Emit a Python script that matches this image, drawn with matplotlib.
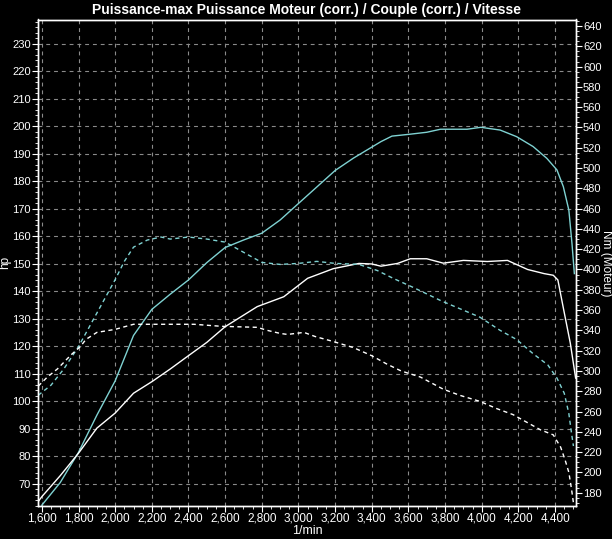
import matplotlib
matplotlib.use("Agg")
import matplotlib.pyplot as plt
from matplotlib.ticker import FuncFormatter, MultipleLocator

plt.rcParams['font.family'] = ['Liberation Sans Narrow', 'Liberation Sans', 'DejaVu Sans']

# puissance (hp), courbe cyan
rpm_p1 = [1600, 1700, 1800, 1900, 2000, 2100, 2200, 2300, 2400, 2500, 2600, 2700, 2800,
          2900, 3000, 3100, 3200, 3300, 3375, 3450, 3510, 3610, 3700, 3775, 3920, 3995,
          4100, 4190, 4280, 4355, 4410, 4445, 4475, 4492, 4505]
hp_1 = [62.3, 70.5, 81.5, 95, 107.5, 124, 133.5, 139, 144.2, 150.5, 156, 158.7, 161.2,
        166, 172, 178, 184, 188.5, 191.5, 194.5, 196.5, 197.2, 197.9, 199, 199, 199.7,
        198.7, 196.3, 192.7, 188.4, 184.2, 178.1, 169.6, 157.5, 146.5]

# puissance (hp), courbe blanche
rpm_p2 = [1580, 1600, 1700, 1800, 1900, 2000, 2100, 2200, 2300, 2380, 2500, 2600, 2775,
          2920, 3050, 3190, 3330, 3400, 3450, 3540, 3610, 3700, 3790, 3900, 4030, 4140,
          4190, 4250, 4340, 4390, 4415, 4447, 4483, 4512]
hp_2 = [63.6, 65.4, 73, 81.2, 90.3, 95.8, 103, 107.2, 111.8, 115.7, 121.5, 127.2, 134.5,
        138.1, 144.8, 148.3, 150.2, 150, 149.2, 150.2, 151.9, 151.9, 150.3, 151.3, 150.9, 151.3,
        149.8, 148, 146.5, 145.9, 144.2, 133.3, 121.2, 108.5]

# couple (Nm), courbe cyan pointillee
rpm_c1 = [1580, 1650, 1720, 1800, 1900, 2000, 2050, 2100, 2175, 2250, 2300, 2400, 2500,
          2600, 2670, 2800, 2900, 3000, 3100, 3200, 3330, 3430, 3520, 3630, 3780, 3990,
          4100, 4190, 4280, 4360, 4410, 4450, 4475, 4490, 4500]
nm_1 = [276, 286, 302, 324, 357, 390, 408, 422, 429, 432, 430, 432, 430,
        427, 420, 407, 405, 406, 408, 406, 405, 399, 391, 382, 369, 353,
        340, 331, 317, 306, 293, 278, 258, 238, 226]

# couple (Nm), courbe blanche pointillee
rpm_c2 = [1580, 1630, 1685, 1760, 1810, 1840, 1900, 2000, 2100, 2250, 2430, 2580, 2775,
          2830, 2900, 2940, 3030, 3090, 3190, 3300, 3400, 3480, 3560, 3665, 3790, 3880,
          3990, 4080, 4170, 4250, 4320, 4390, 4430, 4455, 4475, 4490, 4500]
nm_2 = [285, 294, 302, 316, 324, 331, 338, 341, 346, 346, 346, 344, 343,
        340, 337, 336, 338, 334, 329, 323, 315, 307, 300, 294, 282, 276,
        270, 263, 257, 249, 242, 237, 225, 212, 200, 183, 170]

x_ticks = list(range(1600, 4401, 200))
hp_ticks = list(range(70, 231, 10))
nm_ticks = list(range(180, 641, 20))

cyan = '#7fd2d2'
white = '#ffffff'
grid_col = '#8a8a8a'

fig = plt.figure(figsize=(6.12, 5.39), dpi=100, facecolor='black')
ax = fig.add_axes([38 / 612, 33 / 539, 538 / 612, 486.5 / 539])
ax.set_facecolor('black')
ax2 = ax.twinx()

ax.plot(rpm_p1, hp_1, color=cyan, lw=1.0)
ax.plot(rpm_p2, hp_2, color=white, lw=1.0)
ax2.plot(rpm_c1, nm_1, color=cyan, lw=1.0, dashes=(3, 2.5))
ax2.plot(rpm_c2, nm_2, color=white, lw=1.0, dashes=(3, 2.5))

ax.set_xlim(1579, 4514)
ax.set_ylim(62, 238.9)
ax2.set_ylim(166.9, 646.4)

ax.set_xticks(x_ticks)
ax.xaxis.set_major_formatter(FuncFormatter(lambda v, p: f'{int(v):,}'))
ax.xaxis.set_minor_locator(MultipleLocator(50))
ax.set_yticks(hp_ticks)
ax.yaxis.set_minor_locator(MultipleLocator(2))
ax2.set_yticks(nm_ticks)
ax2.yaxis.set_minor_locator(MultipleLocator(5))

ax.grid(True, which='major', color=grid_col, lw=0.8, linestyle=(0, (3.5, 3.5)))

for a in (ax, ax2):
    for s in a.spines.values():
        s.set_color('white')
        s.set_linewidth(1.0)
    a.tick_params(colors='white', labelsize=8, length=4, width=0.8, pad=1)
    a.tick_params(which='minor', colors='white', length=2, width=0.6)
ax.tick_params(axis='x', labelsize=8.5)

ax.set_title('Puissance-max Puissance Moteur (corr.) / Couple (corr.) / Vitesse',
             color='white', fontsize=10, fontweight='bold', pad=4)
ax.set_xlabel('1/min', color='white', fontsize=9, labelpad=0)
ax.set_ylabel('hp', color='white', fontsize=8.5, va='center')
ax.yaxis.set_label_coords(-0.061, 0.5)
ax2.set_ylabel('Nm (Moteur)', color='white', fontsize=8.5, rotation=270, va='center')
ax2.yaxis.set_label_coords(1.056, 0.5)

fig.savefig('out.png', dpi=100, facecolor='black')
